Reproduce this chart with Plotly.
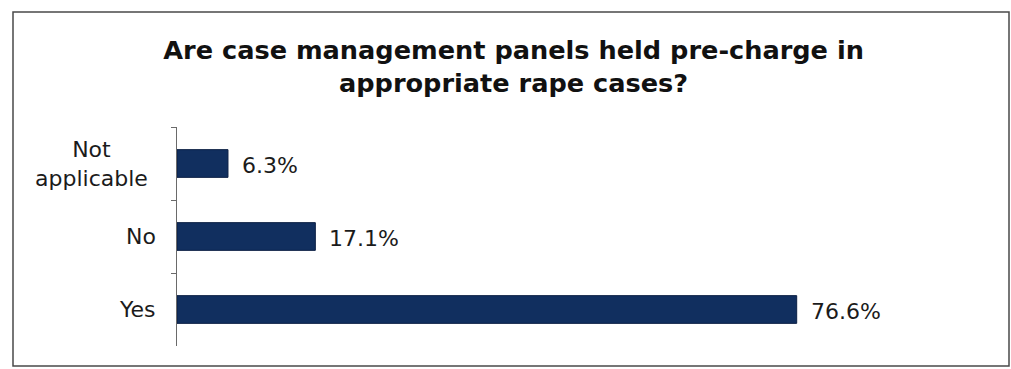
import plotly.graph_objects as go

# Survey responses, listed top to bottom
categories = ["Not applicable", "No", "Yes"]
category_labels = ["Not<br>applicable", "No", "Yes"]
percentages = [6.3, 17.1, 76.6]

title_text = "Are case management panels held pre-charge in<br>appropriate rape cases?"

BAR_COLOR = "#112f5f"
TEXT_COLOR = "#1b1b1b"
FONT = "DejaVu Sans"

W, H = 1011, 369
L, R, T, B = 177, 25, 127, 23

fig = go.Figure(
    go.Bar(
        x=percentages,
        y=categories,
        orientation="h",
        marker=dict(color=BAR_COLOR, line=dict(color="#0b1f44", width=1)),
        width=0.38,
        hoverinfo="skip",
    )
)

# value labels just past the end of each bar
for cat, val in zip(categories, percentages):
    fig.add_annotation(
        x=val, y=cat, xref="x", yref="y",
        text=f"{val:.1f}%", showarrow=False,
        xanchor="left", yanchor="middle", xshift=12, yshift=-2,
        font=dict(family=FONT, size=22, color=TEXT_COLOR),
    )

# category labels, centred line by line, to the left of the axis
for cat, lab in zip(categories, category_labels):
    multiline = "<br>" in lab
    fig.add_annotation(
        x=0, y=cat, xref="paper", yref="y",
        text=lab, showarrow=False, align="center",
        xanchor="right", yanchor="middle",
        xshift=-27 if multiline else -19,
        font=dict(family=FONT, size=22, color=TEXT_COLOR),
    )

pw, ph = W - L - R, H - T - B
# outer frame around the whole chart
fig.add_shape(
    type="rect", xref="paper", yref="paper",
    x0=(13 - L) / pw, x1=(1009 - L) / pw,
    y0=(H - B - 366) / ph, y1=(H - B - 12) / ph,
    line=dict(color="#4a4a4a", width=1.5),
    fillcolor="rgba(0,0,0,0)",
)

fig.update_layout(
    width=W, height=H,
    margin=dict(l=L, r=R, t=T, b=B),
    paper_bgcolor="white", plot_bgcolor="white",
    showlegend=False,
    title=dict(
        text=title_text,
        x=0.508, xref="container", xanchor="center",
        y=1 - 59 / H, yref="container", yanchor="top",
        font=dict(family=FONT, size=25.6, color="#111111", weight="bold"),
    ),
    xaxis=dict(range=[0, 100], visible=False, fixedrange=True),
    yaxis=dict(
        type="category",
        categoryorder="array", categoryarray=categories,
        autorange="reversed",
        showticklabels=False,
        showline=True, linecolor="#6a6a6a", linewidth=1.2,
        ticks="outside", tickson="boundaries", ticklen=5,
        tickcolor="#6a6a6a", tickwidth=1.2,
        showgrid=False, zeroline=False, fixedrange=True,
    ),
)

fig.write_html("out.html")
